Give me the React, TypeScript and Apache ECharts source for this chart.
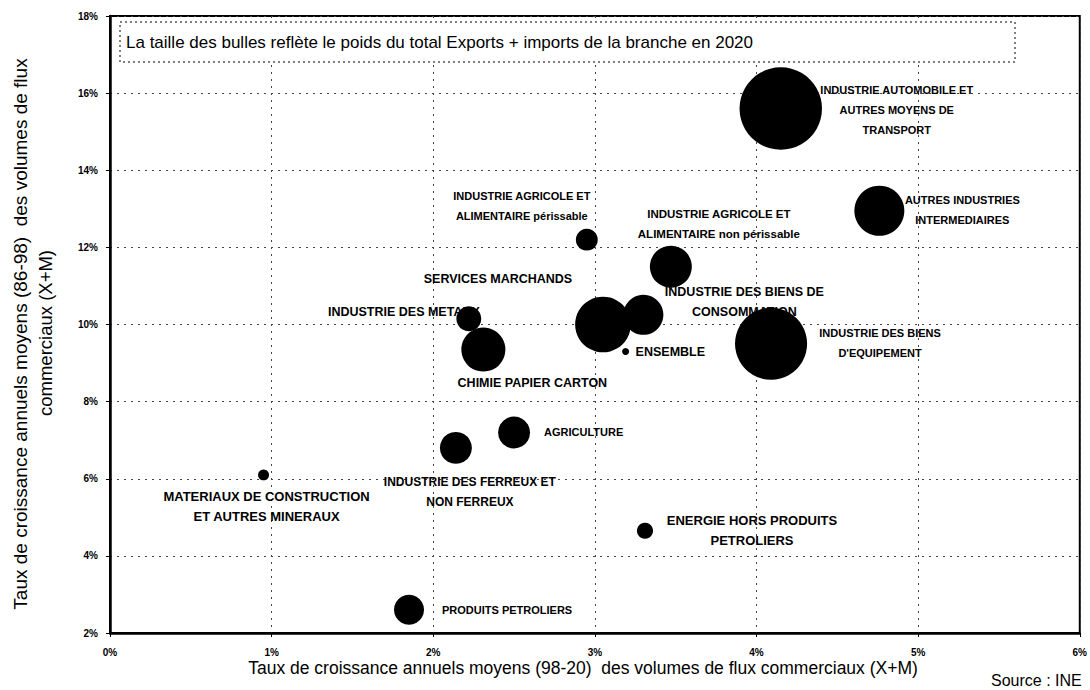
import React, { useEffect, useRef } from "react";
import * as echarts from "echarts";

// Branch names (labels)
const branches = [
  "INDUSTRIE AUTOMOBILE ET\nAUTRES MOYENS DE\nTRANSPORT",
  "AUTRES INDUSTRIES\nINTERMEDIAIRES",
  "INDUSTRIE AGRICOLE ET\nALIMENTAIRE périssable",
  "INDUSTRIE AGRICOLE ET\nALIMENTAIRE non périssable",
  "SERVICES MARCHANDS",
  "INDUSTRIE DES METAUX",
  "CHIMIE PAPIER CARTON",
  "INDUSTRIE DES BIENS DE\nCONSOMMATION",
  "ENSEMBLE",
  "INDUSTRIE DES BIENS\nD'EQUIPEMENT",
  "MATERIAUX DE CONSTRUCTION\nET AUTRES MINERAUX",
  "INDUSTRIE DES FERREUX ET\nNON FERREUX",
  "AGRICULTURE",
  "ENERGIE HORS PRODUITS\nPETROLIERS",
  "PRODUITS PETROLIERS",
];

// Growth 98-20 (%)
const growth9820 = [4.15, 4.76, 2.95, 3.47, 3.05, 2.22, 2.31, 3.3, 3.19, 4.09, 0.95, 2.14, 2.5, 3.31, 1.85];
// Growth 86-98 (%)
const growth8698 = [15.6, 12.95, 12.2, 11.5, 10.0, 10.15, 9.35, 10.25, 9.3, 9.5, 6.1, 6.8, 7.2, 4.65, 2.6];
// Weight of exports + imports (relative)
const weights = [68, 25, 4.8, 17.6, 31, 6.2, 19.4, 16, 0.5, 52, 1.2, 10.2, 10.2, 2.6, 9];

const xTicks = [0, 1, 2, 3, 4, 5, 6];
const yTicks = [2, 4, 6, 8, 10, 12, 14, 16, 18];

// label placement (style): [dx, dy, align, fontSize]
const labelPlacement: [number, number, string, number][] = [
  [116, 1, "center", 11],
  [83, -1, "center", 11],
  [-65, -34, "center", 11],
  [48, -43, "center", 11.5],
  [-105, -46, "center", 12.5],
  [11, -7, "right", 12.5],
  [49, 33, "center", 12.5],
  [101, -13, "center", 12.5],
  [10, 1, "left", 12.5],
  [109, -1, "center", 11],
  [3, 32, "center", 13],
  [14, 44, "center", 12],
  [30, 0, "left", 11],
  [107, 0, "center", 13],
  [33, 0, "left", 11],
];

const LABEL_FONT = "'Liberation Sans Narrow', 'Arial Narrow', 'Liberation Sans', Arial, sans-serif";
const MAIN_FONT = "'Liberation Sans', Arial, sans-serif";

export default function App() {
  const ref = useRef<HTMLDivElement>(null);
  useEffect(() => {
    if (!ref.current) return;
    const chart = echarts.init(ref.current, null, { renderer: "svg" });
    const data = branches.map((name, i) => {
      const [dx, dy, align, fs] = labelPlacement[i];
      return {
        name,
        value: [growth9820[i], growth8698[i]],
        symbolSize: 10 * Math.sqrt(weights[i]),
        label: {
          show: true,
          position: "inside",
          offset: [dx, dy],
          align,
          verticalAlign: "middle",
          formatter: name,
          color: "#000",
          textBorderWidth: 0,
          fontFamily: LABEL_FONT,
          fontWeight: "bold",
          fontSize: fs,
          lineHeight: 20,
        },
      };
    });
    chart.setOption({
      animation: false,
      backgroundColor: "#fff",
      grid: {
        left: 110,
        right: 10,
        top: 16,
        bottom: 57,
        show: true,
        borderColor: "#000",
        borderWidth: 2,
        backgroundColor: "transparent",
      },
      xAxis: {
        type: "value",
        min: xTicks[0],
        max: xTicks[xTicks.length - 1],
        interval: 1,
        axisLine: { show: true, lineStyle: { color: "#000", width: 2.5 } },
        axisTick: { show: true, length: 4, lineStyle: { color: "#000" } },
        axisLabel: {
          formatter: "{value}%",
          color: "#000",
          fontSize: 10,
          fontWeight: "bold",
          fontFamily: LABEL_FONT,
          margin: 14,
        },
        splitLine: { show: true, lineStyle: { color: "#444", type: [2, 5], width: 1 } },
      },
      yAxis: {
        type: "value",
        min: yTicks[0],
        max: yTicks[yTicks.length - 1],
        interval: 2,
        axisLine: { show: true, lineStyle: { color: "#000", width: 2.5 } },
        axisTick: { show: true, length: 4, lineStyle: { color: "#000" } },
        axisLabel: {
          formatter: "{value}%",
          color: "#000",
          fontSize: 10,
          fontWeight: "bold",
          fontFamily: LABEL_FONT,
          margin: 12,
        },
        splitLine: { show: true, lineStyle: { color: "#444", type: [2, 5], width: 1 } },
      },
      graphic: [
        {
          type: "rect",
          shape: { x: 120, y: 22, width: 895, height: 40 },
          style: { fill: "#fff", stroke: "#000", lineWidth: 1, lineDash: [2, 3] },
          z: 10,
        },
        {
          type: "text",
          x: 126,
          y: 42,
          style: {
            text: "La taille des bulles reflète le poids du total Exports + imports de la branche en 2020",
            fontFamily: MAIN_FONT,
            fontSize: 17,
            fill: "#000",
            verticalAlign: "middle",
          },
          z: 11,
        },
        {
          type: "text",
          x: 583,
          y: 668,
          style: {
            text: "Taux de croissance annuels moyens (98-20)  des volumes de flux commerciaux (X+M)",
            fontFamily: MAIN_FONT,
            fontSize: 17.5,
            fill: "#000",
            align: "center",
            verticalAlign: "middle",
          },
        },
        {
          type: "text",
          x: 20,
          y: 334,
          rotation: Math.PI / 2,
          style: {
            text: "Taux de croissance annuels moyens (86-98)  des volumes de flux",
            fontFamily: MAIN_FONT,
            fontSize: 19,
            fill: "#000",
            align: "center",
            verticalAlign: "middle",
          },
        },
        {
          type: "text",
          x: 45,
          y: 333,
          rotation: Math.PI / 2,
          style: {
            text: "commerciaux (X+M)",
            fontFamily: MAIN_FONT,
            fontSize: 18.5,
            fill: "#000",
            align: "center",
            verticalAlign: "middle",
          },
        },
        {
          type: "text",
          x: 991,
          y: 680,
          style: {
            text: "Source : INE",
            fontFamily: MAIN_FONT,
            fontSize: 16,
            fill: "#000",
            verticalAlign: "middle",
          },
        },
      ],
      series: [
        {
          type: "scatter",
          data,
          itemStyle: { color: "#000", opacity: 1 },
          emphasis: { disabled: true },
        },
      ],
    });
    return () => chart.dispose();
  }, []);
  return (
    <div
      ref={ref}
      style={{ position: "fixed", left: 0, top: 0, width: 1090, height: 690, background: "#fff" }}
    />
  );
}
